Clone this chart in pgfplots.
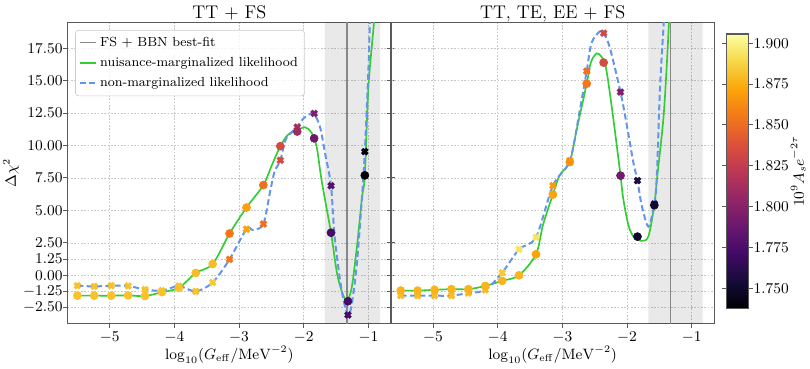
\documentclass[border=0pt]{standalone}
\usepackage{pgfplots}
\usepackage{pgfplotstable}
\pgfplotsset{compat=1.18}

\definecolor{fitgreen}{RGB}{50,205,50}
\definecolor{nonblue}{RGB}{100,149,237}
\definecolor{spine}{RGB}{90,90,90}
\definecolor{bestfit}{RGB}{135,135,135}

\pgfplotsset{
  colormap={inferno}{rgb255=(0,0,4) rgb255=(22,11,57) rgb255=(66,10,104) rgb255=(106,23,110)
    rgb255=(147,38,103) rgb255=(188,55,84) rgb255=(221,81,58) rgb255=(243,120,25)
    rgb255=(252,165,10) rgb255=(246,215,70) rgb255=(252,255,164)},
  panel/.style={
    width=194pt, height=180.4pt, scale only axis,
    xmin=-5.65, xmax=-0.65, ymin=-3.7, ymax=19.47,
    xtick={-5,-4,-3,-2,-1},
    ytick={-2.5,-1.25,0,1.25,2.5,5,7.5,10,12.5,15,17.5},
    grid=major, grid style={dash pattern=on 1pt off 1pt, black!22, line width=0.4pt},
    axis line style={spine, line width=0.9pt},
    tick align=outside, major tick length=2.6pt, tick style={spine, line width=0.6pt},
    xtick pos=bottom,
    tick label style={font=\fontsize{9.2}{11}\selectfont},
    xticklabel style={yshift=1pt},
    yticklabel style={xshift=3pt, /pgf/number format/.cd, fixed, fixed zerofill, precision=2},
    label style={font=\fontsize{9}{11}\selectfont},
    every axis title shift=0pt,
    title style={font=\fontsize{11}{13}\selectfont,
      at={(axis description cs:0.5,1.0144)}, anchor=base},
    xlabel style={at={(axis description cs:0.5,-0.1197)}, anchor=base},
    xlabel={$\log_{10}(G_{\mathrm{eff}}/\mathrm{MeV}^{-2})$},
    point meta min=1.7377, point meta max=1.9057,
    colormap name=inferno,
  },
  circ/.style={scatter, only marks, mark=*, mark size=2.4pt,
    scatter/use mapped color={draw=mapped color, fill=mapped color}, point meta=explicit},
  cross/.style={scatter, only marks, mark=x, mark size=2.3pt, mark options={line width=1.9pt},
    scatter/use mapped color={draw=mapped color, fill=mapped color}, point meta=explicit},
  band/.style={draw=none, fill=black, fill opacity=0.085, forget plot},
  fitline/.style={fitgreen, line width=1pt, smooth, tension=0.5},
  nonline/.style={nonblue, line width=1.2pt, dash pattern=on 3.6pt off 2pt, smooth, tension=0.5},
}

% TT + FS
\pgfplotstableread{
x y c
-5.500 -1.57 1.882
-5.239 -1.57 1.882
-4.977 -1.57 1.882
-4.716 -1.55 1.882
-4.454 -1.60 1.882
-4.193 -1.30 1.882
-3.931 -0.97 1.882
-3.670 0.18 1.880
-3.408 0.87 1.880
-3.147 3.22 1.855
-2.885 5.22 1.870
-2.624 6.95 1.852
-2.362 9.95 1.835
-2.101 11.08 1.810
-1.839 10.55 1.790
-1.578 3.28 1.772
-1.316 -2.00 1.772
-1.055 7.70 1.738
}\ltcirc
\pgfplotstableread{
x y c
-5.500 -0.80 1.882
-5.239 -0.86 1.882
-4.977 -0.80 1.882
-4.716 -0.82 1.882
-4.454 -1.10 1.882
-4.193 -1.18 1.882
-3.931 -0.83 1.882
-3.670 -1.24 1.882
-3.408 -0.55 1.885
-3.147 1.23 1.855
-2.885 3.56 1.872
-2.624 3.95 1.852
-2.362 8.86 1.835
-2.101 11.42 1.813
-1.839 12.47 1.797
-1.578 6.90 1.780
-1.316 -3.06 1.772
-1.055 9.53 1.738
}\ltcross
% TT, TE, EE + FS
\pgfplotstableread{
x y c
-5.500 -1.18 1.877
-5.239 -1.18 1.877
-4.977 -1.12 1.877
-4.716 -1.07 1.877
-4.454 -1.07 1.877
-4.193 -0.82 1.877
-3.931 -0.43 1.877
-3.670 0.00 1.877
-3.408 1.62 1.872
-3.147 6.22 1.872
-2.885 8.73 1.865
-2.624 14.77 1.855
-2.362 16.39 1.835
-2.101 7.68 1.792
-1.839 2.98 1.751
-1.578 5.40 1.751
}\rtcirc
\pgfplotstableread{
x y c
-5.500 -1.57 1.880
-5.239 -1.57 1.880
-4.977 -1.57 1.880
-4.716 -1.57 1.880
-4.454 -1.37 1.880
-4.193 -1.13 1.880
-3.931 0.20 1.885
-3.670 2.00 1.894
-3.408 2.93 1.894
-3.147 6.91 1.868
-2.885 8.84 1.868
-2.624 15.73 1.852
-2.362 18.66 1.832
-2.101 14.12 1.797
-1.839 7.30 1.758
-1.578 5.50 1.751
}\rtcross

\begin{document}
\begin{tikzpicture}
\path[use as bounding box] (-40.62pt,-27.42pt) rectangle (445.38pt,193.98pt);

\begin{axis}[panel, name=L, at={(0,0)}, anchor=south west,
  title={TT $+$ FS},
  ylabel={$\Delta\chi^2$},
  ylabel style={at={(axis description cs:-0.1753,0.5)}, anchor=center},
  ytick pos=both,
  legend cell align=left,
  legend style={at={(0.023,0.976)}, anchor=north west, rounded corners=2pt,
    draw=black!20, fill=white, fill opacity=0.8, text opacity=1,
    font=\fontsize{7.9}{9.5}\selectfont, row sep=1.2pt, inner xsep=2pt, inner ysep=2pt},
  legend image code/.code={\draw[#1] (0pt,0pt) -- (9.6pt,0pt);},
]
\addplot[band] coordinates {(-1.672,-5) (-0.82,-5) (-0.82,25) (-1.672,25) (-1.672,-5)};
\addplot[bestfit, line width=0.9pt] coordinates {(-1.33,-5) (-1.33,25)};
\addlegendentry{FS $+$ BBN best-fit}
\addplot[fitline] coordinates {
(-5.5,-1.57) (-5.239,-1.57) (-4.977,-1.57) (-4.716,-1.55) (-4.454,-1.6) (-4.193,-1.3)
(-3.931,-0.97) (-3.67,0.18) (-3.408,0.87) (-3.147,3.22) (-2.885,5.22) (-2.624,6.95)
(-2.5,8.4) (-2.362,9.95) (-2.24,10.85) (-2.11,11.15) (-1.98,11.41) (-1.88,11.0)
(-1.8,9.9) (-1.72,7.2) (-1.578,3.28) (-1.49,0.28) (-1.41,-1.26) (-1.335,-1.95)
(-1.26,-1.0) (-1.18,2.08) (-1.1,5.94) (-1.055,7.7) (-1.0,14.5) (-0.91,19.7) (-0.89,22)};
\addlegendentry{nuisance-marginalized likelihood}
\addplot[nonline] coordinates {
(-5.5,-0.8) (-5.239,-0.86) (-4.977,-0.8) (-4.716,-0.82) (-4.454,-1.1) (-4.193,-1.18)
(-3.931,-0.83) (-3.67,-1.24) (-3.408,-0.55) (-3.147,1.23) (-2.885,3.56) (-2.78,3.49)
(-2.624,3.95) (-2.52,6.45) (-2.45,8.0) (-2.362,8.86) (-2.27,10.56) (-2.101,11.42)
(-2.0,12.1) (-1.855,12.47) (-1.75,11.46) (-1.67,9.4) (-1.578,6.9) (-1.52,2.85)
(-1.41,-1.26) (-1.316,-3.06) (-1.26,-2.29) (-1.18,0.8) (-1.1,5.94) (-1.055,9.53)
(-1.0,15.8) (-0.975,19.7) (-0.96,22)};
\addlegendentry{non-marginalized likelihood}
\addplot[cross, forget plot] table[x=x, y=y, meta=c] {\ltcross};
\addplot[circ, forget plot] table[x=x, y=y, meta=c] {\ltcirc};
\end{axis}

\begin{axis}[panel, name=R, at={(L.south east)}, anchor=south west,
  title={TT, TE, EE $+$ FS},
  yticklabels={},
  ytick pos=left,
  colorbar right,
  colorbar shift/.style={},
  colorbar style={at={(parent axis.north east)}, anchor=north west,
    xshift=7.44pt, yshift=-6.8pt, width=13pt, height=164.6pt,
    axis line style={spine, line width=0.7pt},
    ytick={1.75,1.775,1.8,1.825,1.85,1.875,1.9},
    tick align=outside, major tick length=2.6pt, tick style={spine, line width=0.6pt},
    yticklabel style={font=\fontsize{9.2}{11}\selectfont, xshift=-3pt,
      /pgf/number format/.cd, fixed, fixed zerofill, precision=3},
    ylabel={$10^9A_se^{-2\tau}$},
    ylabel style={font=\fontsize{9}{11}\selectfont,
      at={(axis description cs:3.3,0.5)}, anchor=center},
  },
]
\addplot[band] coordinates {(-1.672,-5) (-0.83,-5) (-0.83,25) (-1.672,25) (-1.672,-5)};
\addplot[bestfit, line width=0.9pt] coordinates {(-1.33,-5) (-1.33,25)};
\addplot[fitline] coordinates {
(-5.5,-1.18) (-5.239,-1.18) (-4.977,-1.12) (-4.716,-1.07) (-4.454,-1.07) (-4.193,-0.82)
(-3.931,-0.43) (-3.67,0.0) (-3.408,1.62) (-3.3,3.88) (-3.147,6.22) (-3.04,7.73)
(-2.885,8.73) (-2.78,11.2) (-2.624,14.77) (-2.56,16.4) (-2.47,17.1) (-2.39,16.8)
(-2.32,15.83) (-2.21,11.97) (-2.101,7.68) (-2.06,5.94) (-1.98,3.88) (-1.9,2.98)
(-1.775,2.65) (-1.67,3.0) (-1.578,5.4) (-1.54,7.3) (-1.44,11.97) (-1.39,15.8)
(-1.35,19.7) (-1.33,22)};
\addplot[nonline] coordinates {
(-5.5,-1.57) (-5.239,-1.57) (-4.977,-1.57) (-4.716,-1.57) (-4.454,-1.37) (-4.193,-1.13)
(-3.931,0.2) (-3.67,2.0) (-3.408,2.93) (-3.147,6.91) (-2.885,8.84) (-2.73,12.74)
(-2.624,15.73) (-2.55,17.9) (-2.42,18.8) (-2.362,18.66) (-2.27,17.6) (-2.101,14.12)
(-2.0,11.46) (-1.9,8.63) (-1.839,7.3) (-1.775,5.42) (-1.67,3.75) (-1.578,5.5)
(-1.54,7.6) (-1.49,14.5) (-1.43,19.7) (-1.41,22)};
\addplot[cross] table[x=x, y=y, meta=c] {\rtcross};
\addplot[circ] table[x=x, y=y, meta=c] {\rtcirc};
\end{axis}
\end{tikzpicture}
\end{document}
